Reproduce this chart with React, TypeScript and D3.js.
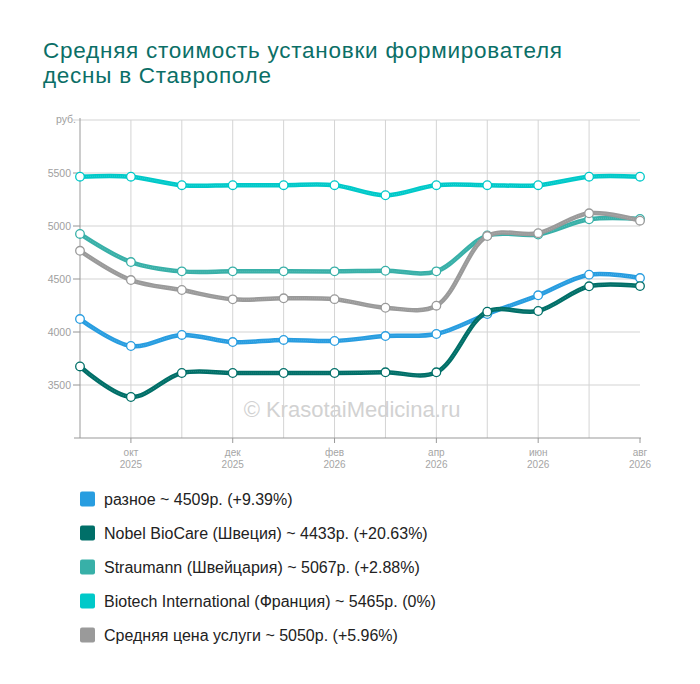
import React from 'react';
import * as d3 from 'd3';

const months = ['сен', 'окт', 'ноя', 'дек', 'янв', 'фев', 'мар', 'апр', 'май', 'июн', 'июл', 'авг'];
const years = ['2025', '2025', '2025', '2025', '2026', '2026', '2026', '2026', '2026', '2026', '2026', '2026'];
const labelledMonths = ['окт', 'дек', 'фев', 'апр', 'июн', 'авг'];

const raznoe = [4122, 3868, 3972, 3905, 3925, 3915, 3962, 3981, 4170, 4346, 4541, 4509];
const nobel = [3675, 3387, 3613, 3613, 3613, 3613, 3620, 3620, 4192, 4198, 4431, 4433];
const straumann = [4925, 4660, 4572, 4572, 4572, 4572, 4578, 4572, 4910, 4920, 5063, 5067];
const biotech = [5465, 5465, 5385, 5385, 5385, 5385, 5290, 5385, 5385, 5385, 5465, 5465];
const average = [4766, 4490, 4396, 4308, 4318, 4310, 4229, 4248, 4905, 4932, 5120, 5050];

const seriesNames = [
  'разное ~ 4509р. (+9.39%)',
  'Nobel BioCare (Швеция) ~ 4433р. (+20.63%)',
  'Straumann (Швейцария) ~ 5067р. (+2.88%)',
  'Biotech International (Франция) ~ 5465р. (0%)',
  'Средняя цена услуги ~ 5050р. (+5.96%)',
];
const seriesValues = [raznoe, nobel, straumann, biotech, average];
const colors = ['#289de0', '#006f68', '#38b0a8', '#00c9c9', '#9a9a9a'];

const yTicks = [3500, 4000, 4500, 5000, 5500];

const width = 700;
const height = 684;
const left = 80;
const right = 640;
const top = 120;
const bottom = 438;

export default function App() {
  const x = d3.scalePoint<string>().domain(months).range([left, right]);
  const y = d3.scaleLinear().domain([3000, 6000]).range([bottom, top]);
  const line = d3
    .line<number>()
    .x((_d, i) => x(months[i]) as number)
    .y((d) => y(d))
    .curve(d3.curveCatmullRom.alpha(0.5));

  const font = 'Arial, "Liberation Sans", sans-serif';

  return (
    <svg
      width={width}
      height={height}
      viewBox={`0 0 ${width} ${height}`}
      style={{ position: 'absolute', left: 0, top: 0, background: '#fff' }}
      fontFamily={font}
    >
      <text x={43} y={58} fontSize={22.5} fill="#0b6f67" textLength={519} lengthAdjust="spacing">
        Средняя стоимость установки формирователя
      </text>
      <text x={43} y={83} fontSize={22.5} fill="#0b6f67" textLength={228} lengthAdjust="spacing">
        десны в Ставрополе
      </text>

      {/* сетка */}
      {[...yTicks, 6000].map((t) => (
        <line key={t} x1={left - 7} x2={right} y1={y(t)} y2={y(t)} stroke="#e2e2e2" strokeWidth={1.5} />
      ))}
      {yTicks.map((t) => (
        <line key={'t' + t} x1={left - 7} x2={left} y1={y(t)} y2={y(t)} stroke="#aaa" strokeWidth={1} />
      ))}
      {months.slice(1, -1).map((m) => (
        <line key={m} x1={x(m)} x2={x(m)} y1={top} y2={bottom} stroke="#d4d4d4" strokeWidth={1} />
      ))}

      {/* оси */}
      <line x1={left} x2={left} y1={top - 2} y2={bottom} stroke="#999" strokeWidth={1} />
      <line x1={left - 6} x2={right + 1} y1={bottom} y2={bottom} stroke="#999" strokeWidth={1.2} />
      {yTicks.map((t) => (
        <text key={t} x={left - 9} y={y(t) + 3.5} fontSize={10.5} fill="#a0a0a0" textAnchor="end">
          {t}
        </text>
      ))}
      <text x={left - 4} y={top + 3} fontSize={10.5} fill="#a0a0a0" textAnchor="end">
        руб.
      </text>
      {labelledMonths.map((m) => {
        const i = months.indexOf(m);
        const px = x(m) as number;
        return (
          <g key={m}>
            <line x1={px} x2={px} y1={bottom} y2={bottom + 5} stroke="#999" />
            <text x={px} y={bottom + 18} fontSize={10} fill="#a5a5a5" textAnchor="middle">
              {m}
            </text>
            <text x={px} y={bottom + 29.5} fontSize={10} fill="#a5a5a5" textAnchor="middle">
              {years[i]}
            </text>
          </g>
        );
      })}

      <text x={352} y={417} fontSize={22} fill="#d2d2d2" textAnchor="middle">
        © KrasotaiMedicina.ru
      </text>

      {/* линии */}
      {seriesValues.map((vals, si) => (
        <g key={si}>
          <path d={line(vals) ?? ''} fill="none" stroke={colors[si]} strokeWidth={4.5} strokeLinecap="round" />
          <path
            d={line(vals) ?? ''}
            fill="none"
            stroke="#fff"
            strokeOpacity={0.18}
            strokeWidth={1}
            strokeDasharray="1 1"
          />
          {vals.map((v, i) => (
            <circle
              key={i}
              cx={x(months[i])}
              cy={y(v)}
              r={4.3}
              fill="#fff"
              stroke={colors[si]}
              strokeWidth={1.3}
            />
          ))}
        </g>
      ))}

      {/* легенда */}
      {seriesNames.map((name, i) => (
        <g key={name} transform={`translate(0, ${499 + i * 34})`}>
          <rect x={80} y={-7.5} width={15} height={15} rx={2} fill={colors[i]} />
          <text x={104} y={6} fontSize={16} fill="#222">
            {name}
          </text>
        </g>
      ))}
    </svg>
  );
}
